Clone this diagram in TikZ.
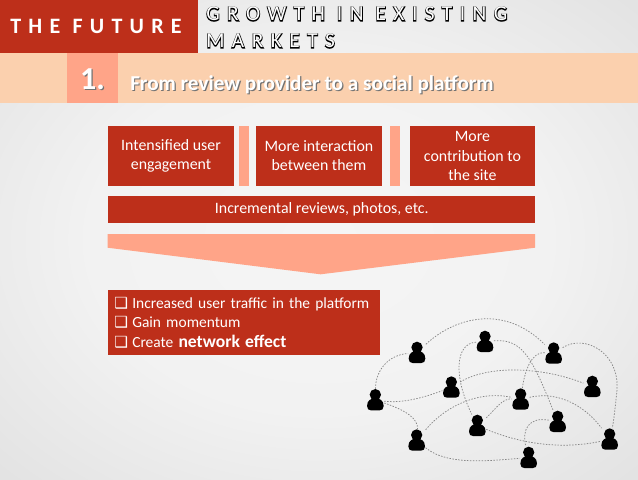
\documentclass[tikz,border=0pt]{standalone}
\usepackage{fontspec}
\setmainfont{Carlito}
\newfontfamily\checkfont{DejaVu Sans}
\newfontfamily\spacedbold[LetterSpace=33]{Carlito Bold}
\newfontfamily\spacedplain[LetterSpace=35]{Carlito}
\newfontfamily\spacedouter[LetterSpace=35,FakeBold=7]{Carlito}
\definecolor{bgin}{HTML}{F5F5F5}
\definecolor{bgmida}{HTML}{F2F2F2}
\definecolor{bgmidb}{HTML}{D9D9D9}
\definecolor{bgmidc}{HTML}{C6C6C6}
\definecolor{bgout}{HTML}{BCBCBC}
\definecolor{brick}{HTML}{BD2F1A}
\definecolor{peach}{HTML}{FBD0AE}
\definecolor{salmon}{HTML}{FFA488}
\definecolor{netline}{HTML}{858585}
\pgfdeclareradialshading{slidebg}{\pgfpoint{0bp}{0bp}}{color(0bp)=(bgin); color(18bp)=(bgmida); color(46bp)=(bgmidb); color(64bp)=(bgmidc); color(72bp)=(bgout)}
\newcommand{\outlined}[1]{\rlap{\spacedouter\color{black}#1}{\spacedplain\color{white}#1}}
\newcommand{\shadowed}[1]{\rlap{\kern.9pt\raisebox{-.9pt}{\color{black!55}#1}}{\color{white}#1}}
\newcommand{\chk}{\makebox[15pt][l]{\kern1.6pt{\checkfont\fontsize{11.5pt}{10pt}\selectfont ❑}}}
\tikzset{
  brickbox/.style={fill=brick,text=white,draw=none,inner sep=0pt,align=center,font=\fontsize{11.9pt}{14.4pt}\selectfont},
  flatfill/.style={draw=none,inner sep=0pt},
  person/.style={draw=none,inner sep=0pt,minimum width=13pt,minimum height=16.5pt,
    path picture={\fill[black,shift={(path picture bounding box.center)}]
      (0,-16) circle[radius=17]
      (-25,18) .. controls (-25,0) and (-12,-5) .. (0,-5) .. controls (12,-5) and (25,0) .. (25,18)
      .. controls (25,27) and (20,31) .. (13,31) -- (-13,31) .. controls (-20,31) and (-25,27) .. (-25,18) -- cycle;}},
  netlink/.style={draw=netline,line width=.55pt,dash pattern=on 1.1pt off 1.1pt}
}
\begin{document}
\begin{tikzpicture}[x=.75pt,y=-.75pt]
\path[use as bounding box,shade,shading=slidebg] (0,0) rectangle (638,479);
% header
\node[flatfill,fill=brick,minimum width=198*.75pt,minimum height=53*.75pt,anchor=north west] (banner) at (0,0) {};
\node[anchor=west,inner sep=0pt,text=white,font=\fontsize{16.5pt}{17pt}\selectfont\spacedbold] (future) at (10,26) {THE FUTURE};
\node[anchor=west,inner sep=0pt,font=\fontsize{16pt}{17pt}\selectfont] (growtha) at (206,14) {\outlined{GROWTH\hspace{9pt}IN\hspace{9pt}EXISTING}};
\node[anchor=west,inner sep=0pt,font=\fontsize{16pt}{17pt}\selectfont] (growthb) at (206,41) {\outlined{MARKETS}};
\node[flatfill,fill=peach,minimum width=638*.75pt,minimum height=50*.75pt,anchor=north west] (band) at (0,53) {};
\node[flatfill,fill=salmon,minimum width=51*.75pt,minimum height=50*.75pt,anchor=north west] (one) at (67,53) {};
\node[inner sep=0pt,font=\bfseries\fontsize{24pt}{26pt}\selectfont] (onetext) at (92.5,80) {\shadowed{1.}};
\node[anchor=west,inner sep=0pt,font=\bfseries\fontsize{15.9pt}{18pt}\selectfont] (title) at (130,85) {\shadowed{From review provider to a social platform}};
% boxes
\node[brickbox,minimum width=125.5*.75pt,minimum height=60*.75pt,anchor=north west] (b1) at (108,125.7) {Intensified user\\engagement};
\node[flatfill,fill=salmon,minimum width=10*.75pt,minimum height=60*.75pt,anchor=north west] (s1) at (238.3,125.7) {};
\node[brickbox,minimum width=125.3*.75pt,minimum height=60*.75pt,anchor=north west] (b2) at (256,125.7) {More interaction\\between them};
\node[flatfill,fill=salmon,minimum width=10*.75pt,minimum height=60*.75pt,anchor=north west] (s2) at (389.3,125.7) {};
\node[brickbox,minimum width=125.7*.75pt,minimum height=60*.75pt,anchor=north west] (b3) at (409.3,125.7) {More\\contribution to\\the site};
\node[brickbox,minimum width=427*.75pt,minimum height=26.3*.75pt,anchor=north west] (bar) at (108,196) {Incremental reviews, photos, etc.};
\fill[salmon] (107.5,234) -- (535,234) -- (535,247.7) -- (320.7,274.3) -- (107.5,247.7) -- cycle;
\node[brickbox,align=left,minimum width=271.3*.75pt,minimum height=65.7*.75pt,anchor=north west,text width=271.3*.75pt-6pt,inner xsep=3pt,font=\fontsize{11.6pt}{14.7pt}\selectfont] (list) at (108,289.3)
  {\chk Increased user traffic in the platform\\
   \chk Gain momentum\\
   \chk Create {\bfseries\fontsize{13.2pt}{14.7pt}\selectfont network effect}};
% network
\begin{scope}[shift={(355,310)},x=.25pt,y=-.25pt]
\node[person] (pa) at (186,128) {};
\node[person] (pb) at (390,95) {};
\node[person] (pc) at (596,130) {};
\node[person] (pd) at (289,232) {};
\node[person] (pe) at (712,230) {};
\node[person] (pf) at (497,268) {};
\node[person] (pg) at (61,270) {};
\node[person] (ph) at (608,335) {};
\node[person] (pi) at (367,347) {};
\node[person] (pj) at (764,388) {};
\node[person] (pk) at (185,391) {};
\node[person] (pl) at (521,443) {};
\draw[netlink] (pg) .. controls (62,180) and (100,135) .. (pa);
\draw[netlink] (pa) .. controls (290,30) and (440,-25) .. (pc);
\draw[netlink] (pb) .. controls (500,85) and (530,140) .. (ph);
\draw[netlink] (pb) .. controls (300,100) and (295,200) .. (pi);
\draw[netlink] (pc) .. controls (530,125) and (510,180) .. (pf);
\draw[netlink] (pc) .. controls (690,70) and (800,130) .. (785,250) .. controls (780,300) and (775,340) .. (pj);
\draw[netlink] (pg) .. controls (140,280) and (200,265) .. (pd);
\draw[netlink] (pd) .. controls (400,165) and (560,170) .. (pe);
\draw[netlink] (pg) .. controls (150,300) and (190,325) .. (pk);
\draw[netlink] (pk) .. controls (270,290) and (370,240) .. (pf);
\draw[netlink] (pf) .. controls (620,240) and (700,300) .. (pj);
\draw[netlink] (pi) .. controls (420,300) and (440,265) .. (pf);
\draw[netlink] (pi) .. controls (520,410) and (640,415) .. (pj);
\draw[netlink] (pk) .. controls (280,470) and (420,450) .. (pl);
\draw[netlink] (ph) .. controls (520,320) and (500,360) .. (pl);
\end{scope}
\end{tikzpicture}
\end{document}
